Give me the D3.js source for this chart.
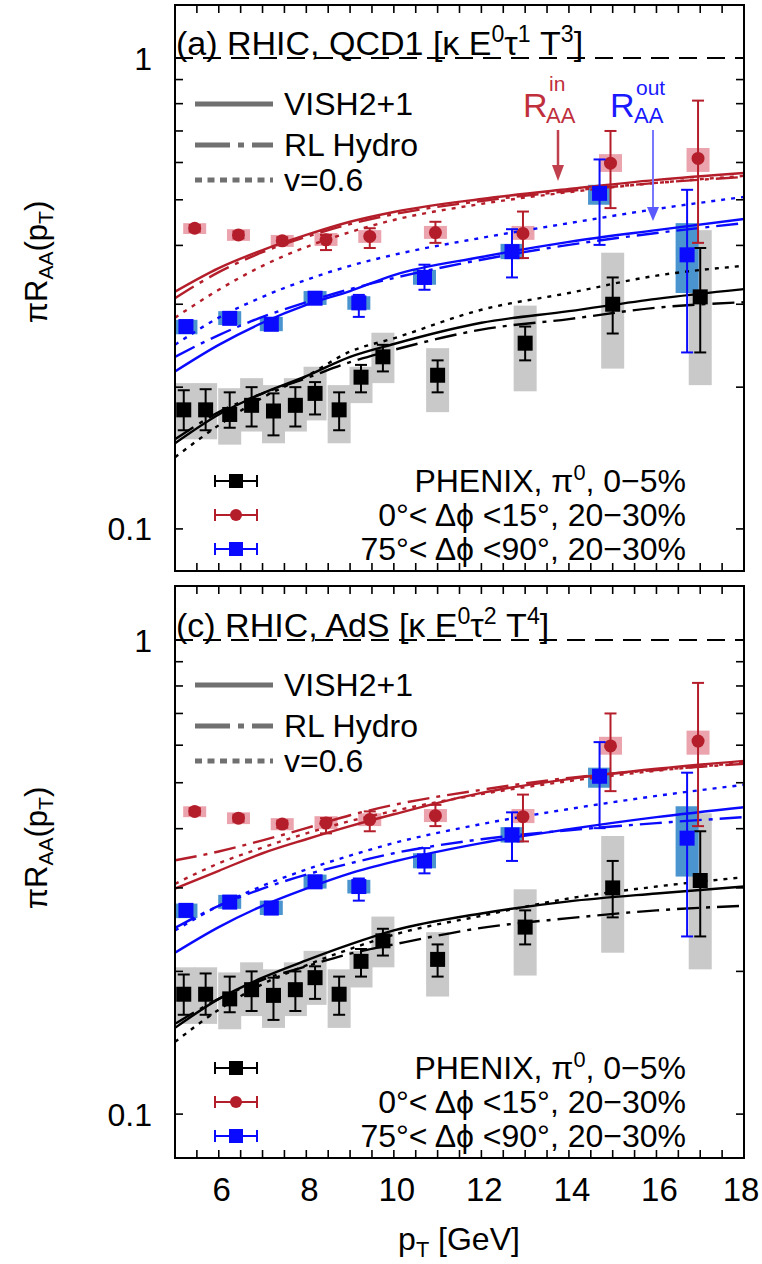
<!DOCTYPE html>
<html>
<head>
<meta charset="utf-8">
<script src="https://cdn.jsdelivr.net/npm/d3@7"></script>
<style>
  body { margin: 0; background: #fff; }
  svg { display: block; }
  text { font-family: "Liberation Sans", Arial, Helvetica, sans-serif; fill: #000; }
</style>
</head>
<body>
<svg id="chart" width="762" height="1264"></svg>
<script>
// ---------- measured data (pT in GeV, pi*R_AA) ----------
const phenixPt    = [5.2, 5.7, 6.25, 6.75, 7.25, 7.75, 8.2, 8.75, 9.25, 9.75, 11, 13, 15, 17];
const phenixVal   = [0.179, 0.179, 0.175, 0.183, 0.178, 0.183, 0.194, 0.179, 0.210, 0.232, 0.212, 0.248, 0.300, 0.311];
const phenixErrLo = [0.162, 0.162, 0.164, 0.165, 0.158, 0.165, 0.175, 0.162, 0.195, 0.216, 0.195, 0.228, 0.260, 0.237];
const phenixErrHi = [0.197, 0.198, 0.195, 0.200, 0.194, 0.200, 0.205, 0.195, 0.223, 0.246, 0.228, 0.269, 0.342, 0.395];
const phenixSysLo = [0.155, 0.155, 0.151, 0.161, 0.152, 0.161, 0.170, 0.152, 0.185, 0.204, 0.177, 0.196, 0.219, 0.202];
const phenixSysHi = [0.204, 0.204, 0.199, 0.209, 0.202, 0.209, 0.221, 0.202, 0.221, 0.261, 0.242, 0.298, 0.386, 0.431];

const inPt    = [5.45, 6.45, 7.45, 8.45, 9.45, 10.95, 12.95, 14.95, 16.95];
const inVal   = [0.435, 0.421, 0.409, 0.411, 0.418, 0.426, 0.424, 0.598, 0.612];
const inErrLo = [0.428, 0.414, 0.402, 0.391, 0.395, 0.405, 0.376, 0.480, 0.405];
const inErrHi = [0.442, 0.428, 0.416, 0.421, 0.435, 0.449, 0.472, 0.700, 0.812];
const inSysLo = [0.423, 0.409, 0.397, 0.399, 0.405, 0.413, 0.411, 0.573, 0.573];
const inSysHi = [0.446, 0.433, 0.421, 0.425, 0.431, 0.440, 0.440, 0.625, 0.644];

const outPt    = [5.25, 6.25, 7.2, 8.2, 9.2, 10.7, 12.7, 14.7, 16.7];
const outVal   = [0.269, 0.280, 0.272, 0.309, 0.302, 0.342, 0.388, 0.516, 0.382];
const outErrLo = [0.263, 0.274, 0.266, 0.302, 0.282, 0.322, 0.342, 0.401, 0.237];
const outErrHi = [0.275, 0.287, 0.278, 0.316, 0.314, 0.364, 0.433, 0.609, 0.525];
const outSysLo = [0.259, 0.271, 0.263, 0.299, 0.292, 0.330, 0.374, 0.488, 0.317];
const outSysHi = [0.278, 0.290, 0.282, 0.320, 0.312, 0.355, 0.403, 0.538, 0.446];

// ---------- model curves ----------
const modelPt = [5, 6, 7, 8, 9, 10, 12, 14, 16, 18];

// (a) QCD1 energy loss
const qcdBlackVish = [0.152, 0.175, 0.194, 0.211, 0.232, 0.247, 0.274, 0.290, 0.308, 0.323];
const qcdBlackRL   = [0.155, 0.177, 0.194, 0.209, 0.226, 0.240, 0.265, 0.279, 0.295, 0.303];
const qcdBlackV06  = [0.142, 0.166, 0.190, 0.211, 0.238, 0.254, 0.292, 0.317, 0.345, 0.362];
const qcdInVish    = [0.319, 0.358, 0.391, 0.421, 0.449, 0.471, 0.502, 0.527, 0.551, 0.570];
const qcdInRL      = [0.309, 0.351, 0.387, 0.417, 0.444, 0.466, 0.497, 0.522, 0.543, 0.559];
const qcdInV06     = [0.281, 0.322, 0.362, 0.397, 0.427, 0.453, 0.490, 0.519, 0.543, 0.562];
const qcdOutVish   = [0.216, 0.246, 0.274, 0.299, 0.320, 0.346, 0.378, 0.407, 0.431, 0.455];
const qcdOutRL     = [0.232, 0.258, 0.282, 0.303, 0.323, 0.341, 0.373, 0.401, 0.425, 0.446];
const qcdOutV06    = [0.246, 0.281, 0.311, 0.338, 0.362, 0.382, 0.415, 0.446, 0.478, 0.507];

// (c) AdS energy loss
const adsBlackVish = [0.152, 0.175, 0.194, 0.211, 0.228, 0.244, 0.265, 0.281, 0.292, 0.302];
const adsBlackRL   = [0.155, 0.175, 0.192, 0.205, 0.218, 0.228, 0.247, 0.259, 0.269, 0.275];
const adsBlackV06  = [0.142, 0.166, 0.188, 0.206, 0.223, 0.239, 0.262, 0.285, 0.302, 0.316];
const adsInVish    = [0.299, 0.326, 0.355, 0.380, 0.405, 0.429, 0.476, 0.509, 0.535, 0.556];
const adsInRL      = [0.343, 0.358, 0.378, 0.401, 0.427, 0.449, 0.483, 0.512, 0.532, 0.548];
const adsInV06     = [0.306, 0.338, 0.365, 0.391, 0.415, 0.436, 0.473, 0.504, 0.530, 0.551];
const adsOutVish   = [0.219, 0.248, 0.275, 0.299, 0.322, 0.341, 0.373, 0.399, 0.423, 0.444];
const adsOutRL     = [0.247, 0.275, 0.299, 0.320, 0.338, 0.355, 0.380, 0.397, 0.411, 0.423];
const adsOutV06    = [0.244, 0.275, 0.303, 0.328, 0.351, 0.373, 0.409, 0.440, 0.469, 0.495];

// ---------- axes / labels ----------
const xTickLabels = [6, 8, 10, 12, 14, 16, 18];
const yTickLabels = [0.1, 1];
const yMinorTicks = [0.1, 0.2, 0.3, 0.4, 0.5, 0.6, 0.7, 0.8, 0.9, 1];
const modelNames = ["VISH2+1", "RL Hydro", "v=0.6"];

// ---------- styles ----------
const RED = "#b41e2a", BLUE = "#0a0aff", BLACK = "#000";
const STYLE = {
  vish: null,
  rl: "22,7,4,7",
  v06: "4,6"
};

const svg = d3.select("#chart");
const x = d3.scaleLinear().domain([5, 18]).range([175, 744]);

function addRich(sel, parts, size) {
  // parts: [text, "n"|"sup"|"sub"]
  parts.forEach(([t, k]) => {
    const ts = sel.append("tspan").text(t);
    if (k === "sup") ts.attr("font-size", size * 0.68).attr("baseline-shift", "55%");
    else if (k === "sub") ts.attr("font-size", size * 0.68).attr("baseline-shift", "-30%");
  });
}

function drawPanel(p, idx) {
  const y = d3.scaleLog().domain(p.yDomain).range(p.yRange);
  const top = p.yRange[1], bot = p.yRange[0];
  const L = x.range()[0], R = x.range()[1];
  const g = svg.append("g");

  const clipId = "clip" + idx;
  svg.append("clipPath").attr("id", clipId)
    .append("rect").attr("x", L).attr("y", top).attr("width", R - L).attr("height", bot - top);
  const plot = g.append("g").attr("clip-path", `url(#${clipId})`);

  const sets = [
    { pt: phenixPt, v: phenixVal, lo: phenixErrLo, hi: phenixErrHi, sLo: phenixSysLo, sHi: phenixSysHi, col: BLACK, box: "#c9c9c9", shape: "sq", size: 15 },
    { pt: inPt, v: inVal, lo: inErrLo, hi: inErrHi, sLo: inSysLo, sHi: inSysHi, col: RED, box: "#eba3ad", shape: "ci", size: 13 },
    { pt: outPt, v: outVal, lo: outErrLo, hi: outErrHi, sLo: outSysLo, sHi: outSysHi, col: BLUE, box: "#4a94cf", shape: "sq", size: 15 }
  ];

  // systematic boxes
  sets.forEach(s => {
    plot.append("g").selectAll("rect").data(s.pt).join("rect")
      .attr("x", d => x(d) - 11.5).attr("width", 23)
      .attr("y", (d, i) => y(s.sHi[i]))
      .attr("height", (d, i) => y(s.sLo[i]) - y(s.sHi[i]))
      .attr("fill", s.box);
  });

  // model curves
  const line = d3.line().x((d, i) => x(modelPt[i])).y(d => y(d)).curve(d3.curveMonotoneX);
  p.curves.forEach(c => {
    plot.append("path").datum(c.v).attr("d", line)
      .attr("fill", "none").attr("stroke", c.col).attr("stroke-width", 2.4)
      .attr("stroke-dasharray", STYLE[c.st]);
  });

  // unity reference line
  plot.append("line").attr("x1", L).attr("x2", R).attr("y1", y(1)).attr("y2", y(1))
    .attr("stroke", "#000").attr("stroke-width", 2).attr("stroke-dasharray", "18,10");

  // stat error bars and markers
  sets.forEach(s => {
    const gg = plot.append("g");
    s.pt.forEach((d, i) => {
      const cx = x(d), y1 = y(s.hi[i]), y2 = y(s.lo[i]);
      gg.append("line").attr("x1", cx).attr("x2", cx).attr("y1", y1).attr("y2", y2)
        .attr("stroke", s.col).attr("stroke-width", 2);
      [y1, y2].forEach(yy => gg.append("line").attr("x1", cx - 6).attr("x2", cx + 6)
        .attr("y1", yy).attr("y2", yy).attr("stroke", s.col).attr("stroke-width", 2));
    });
    if (s.shape === "sq") {
      gg.selectAll("rect.m").data(s.pt).join("rect").attr("class", "m")
        .attr("x", d => x(d) - s.size / 2).attr("width", s.size)
        .attr("y", (d, i) => y(s.v[i]) - s.size / 2).attr("height", s.size)
        .attr("fill", s.col);
    } else {
      gg.selectAll("circle").data(s.pt).join("circle")
        .attr("cx", d => x(d)).attr("cy", (d, i) => y(s.v[i])).attr("r", s.size / 2)
        .attr("fill", s.col);
    }
  });

  // frame
  g.append("rect").attr("x", L).attr("y", top).attr("width", R - L).attr("height", bot - top)
    .attr("fill", "none").attr("stroke", "#000").attr("stroke-width", 2);

  // ticks (inward on all four sides)
  const xt = d3.range(5, 18.001, 0.5);
  const tk = g.append("g").attr("stroke", "#000").attr("stroke-width", 1.6);
  xt.forEach(t => {
    tk.append("line").attr("x1", x(t)).attr("x2", x(t)).attr("y1", bot).attr("y2", bot - 8);
    tk.append("line").attr("x1", x(t)).attr("x2", x(t)).attr("y1", top).attr("y2", top + 8);
  });
  yMinorTicks.forEach(t => {
    tk.append("line").attr("x1", L).attr("x2", L + 8).attr("y1", y(t)).attr("y2", y(t));
    tk.append("line").attr("x1", R).attr("x2", R - 8).attr("y1", y(t)).attr("y2", y(t));
  });

  // y tick labels
  g.selectAll("text.yl").data(yTickLabels).join("text").attr("class", "yl")
    .attr("x", 152).attr("y", d => y(d)).attr("dy", "0.36em")
    .attr("text-anchor", "end").attr("font-size", 32).text(d => d);

  // y axis title
  const yt = g.append("text").attr("transform", `translate(47,${p.yTitleY}) rotate(-90)`)
    .attr("text-anchor", "middle").attr("font-size", 31);
  addRich(yt, [["πR", "n"], ["AA", "sub"], ["(p", "n"], ["T", "sub"], [")", "n"]], 31);

  // panel title
  const tt = g.append("text").attr("x", L + 1).attr("y", y(1) - 3).attr("font-size", 34);
  addRich(tt, p.title, 34);

  // model legend (line styles)
  const lg = g.append("g");
  modelNames.forEach((n, i) => {
    const ly = top + [99, 140, 175][i];
    lg.append("line").attr("x1", 195).attr("x2", 273).attr("y1", ly).attr("y2", ly)
      .attr("stroke", "#707070").attr("stroke-width", 5)
      .attr("stroke-dasharray", [null, "35,8,6,8", "7,5.5"][i]);
    lg.append("text").attr("x", 284).attr("y", ly + 11).attr("font-size", 32).text(n);
  });

  // data legend
  const dl = g.append("g");
  const dlab = [
    [["PHENIX, π", "n"], ["0", "sup"], [", 0−5%", "n"]],
    [["0°< Δϕ <15°, 20−30%", "n"]],
    [["75°< Δϕ <90°, 20−30%", "n"]]
  ];
  sets.forEach((s, i) => {
    const ly = bot - [90, 56, 22][i];
    dl.append("line").attr("x1", 215).attr("x2", 257).attr("y1", ly).attr("y2", ly)
      .attr("stroke", s.col).attr("stroke-width", 2);
    [215, 257].forEach(xx => dl.append("line").attr("x1", xx).attr("x2", xx)
      .attr("y1", ly - 6).attr("y2", ly + 6).attr("stroke", s.col).attr("stroke-width", 2));
    if (s.shape === "sq") dl.append("rect").attr("x", 236 - 7).attr("y", ly - 7)
      .attr("width", 14).attr("height", 14).attr("fill", s.col);
    else dl.append("circle").attr("cx", 236).attr("cy", ly).attr("r", 6).attr("fill", s.col);
    const t = dl.append("text").attr("x", 686).attr("y", ly + 11).attr("text-anchor", "end")
      .attr("font-size", 32);
    addRich(t, dlab[i], 32);
  });

  if (p.arrows) {
    const a = g.append("g");
    // in-plane marker
    a.append("text").attr("x", 523).attr("y", top + 112).attr("font-size", 34).style("fill", "#c0303c").text("R");
    a.append("text").attr("x", 549).attr("y", top + 86).attr("font-size", 21).style("fill", "#c0303c").text("in");
    a.append("text").attr("x", 546).attr("y", top + 118).attr("font-size", 22).style("fill", "#c0303c").text("AA");
    a.append("line").attr("x1", 558).attr("x2", 558).attr("y1", top + 125).attr("y2", top + 163)
      .attr("stroke", "#c0404e").attr("stroke-width", 2.5);
    a.append("path").attr("d", `M552,${top + 160} L564,${top + 160} L558,${top + 176} Z`).attr("fill", "#c0404e");
    // out-of-plane marker
    a.append("text").attr("x", 610).attr("y", top + 112).attr("font-size", 34).style("fill", "#1a1aff").text("R");
    a.append("text").attr("x", 636).attr("y", top + 90).attr("font-size", 21).style("fill", "#1a1aff").text("out");
    a.append("text").attr("x", 634).attr("y", top + 118).attr("font-size", 22).style("fill", "#1a1aff").text("AA");
    a.append("line").attr("x1", 653).attr("x2", 653).attr("y1", top + 125).attr("y2", top + 205)
      .attr("stroke", "#7878ff").attr("stroke-width", 2);
    a.append("path").attr("d", `M647,${top + 202} L659,${top + 202} L653,${top + 216} Z`).attr("fill", "#5a5aff");
  }

  return y;
}

const curveSet = (b, i, o) => [
  { v: b[0], col: BLACK, st: "vish" }, { v: b[1], col: BLACK, st: "rl" }, { v: b[2], col: BLACK, st: "v06" },
  { v: i[0], col: RED, st: "vish" }, { v: i[1], col: RED, st: "rl" }, { v: i[2], col: RED, st: "v06" },
  { v: o[0], col: BLUE, st: "vish" }, { v: o[1], col: BLUE, st: "rl" }, { v: o[2], col: BLUE, st: "v06" }
];

drawPanel({
  yDomain: [0.0814, 1.296], yRange: [571, 5], yTitleY: 262, arrows: true,
  title: [["(a) RHIC, QCD1 [κ E", "n"], ["0", "sup"], ["τ", "n"], ["1", "sup"], [" T", "n"], ["3", "sup"], ["]", "n"]],
  curves: curveSet([qcdBlackVish, qcdBlackRL, qcdBlackV06], [qcdInVish, qcdInRL, qcdInV06], [qcdOutVish, qcdOutRL, qcdOutV06])
}, 0);

drawPanel({
  yDomain: [0.0808, 1.300], yRange: [1158, 586], yTitleY: 848, arrows: false,
  title: [["(c) RHIC, AdS [κ E", "n"], ["0", "sup"], ["τ", "n"], ["2", "sup"], [" T", "n"], ["4", "sup"], ["]", "n"]],
  curves: curveSet([adsBlackVish, adsBlackRL, adsBlackV06], [adsInVish, adsInRL, adsInV06], [adsOutVish, adsOutRL, adsOutV06])
}, 1);

// x tick labels (bottom panel only); the last one is kept inside the page
svg.append("g").selectAll("text").data(xTickLabels).join("text")
  .attr("x", d => Math.min(x(d) + 3, 741)).attr("y", 1201).attr("text-anchor", "middle")
  .attr("font-size", 33).text(d => d);

// x axis title
const xtitle = svg.append("text").attr("x", 459).attr("y", 1250).attr("text-anchor", "middle").attr("font-size", 32);
addRich(xtitle, [["p", "n"], ["T", "sub"], [" [GeV]", "n"]], 32);
</script>
</body>
</html>
